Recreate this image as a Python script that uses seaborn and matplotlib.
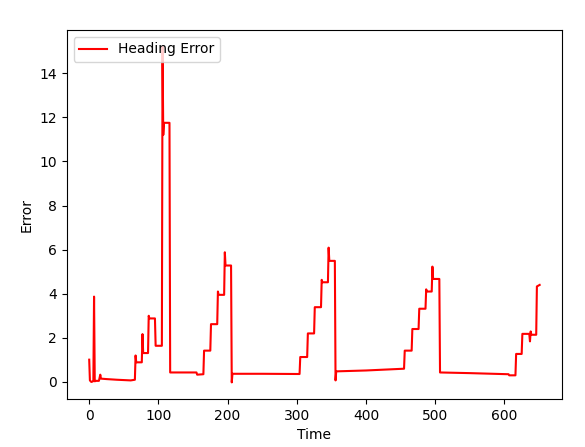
import matplotlib
matplotlib.use("Agg")
import matplotlib.pyplot as plt
import seaborn as sns
import pandas as pd

# Breakpoints
time = [0, 1, 3, 5, 6, 7, 8, 10, 14, 16, 17, 25, 40, 60, 66, 67, 68, 76, 77, 78,
        85, 86, 87, 95, 96, 105, 106, 107, 108, 116, 117, 155, 156, 165, 166, 175,
        176, 185, 186, 187, 195, 196, 197, 205, 206, 207, 250, 304, 305, 315, 316,
        325, 326, 335, 336, 337, 345, 346, 347, 355, 356, 357, 400, 455, 456, 466,
        467, 476, 477, 486, 487, 488, 495, 496, 497, 506, 507, 550, 606, 607, 616,
        617, 625, 626, 636, 637, 638, 639, 646, 647, 651]
error = [1.01, 0.07, 0.0, 0.02, 0.05, 3.87, 0.03, 0.05, 0.05, 0.33, 0.15, 0.13, 0.10,
         0.07, 0.10, 1.20, 0.89, 0.89, 2.17, 1.31, 1.31, 3.00, 2.88, 2.88, 1.64, 1.64,
         15.2, 11.2, 11.75, 11.75, 0.43, 0.43, 0.33, 0.35, 1.42, 1.42, 2.62, 2.62,
         4.10, 3.95, 3.95, 5.88, 5.28, 5.28, -0.02, 0.37, 0.37, 0.36, 1.13, 1.13, 2.20,
         2.20, 3.39, 3.39, 4.63, 4.52, 4.52, 6.09, 5.49, 5.49, 0.07, 0.48, 0.52, 0.60,
         1.42, 1.42, 2.40, 2.40, 3.32, 3.32, 4.20, 4.10, 4.10, 5.23, 4.67, 4.67, 0.43,
         0.40, 0.35, 0.30, 0.30, 1.27, 1.27, 2.18, 2.18, 1.84, 2.29, 2.14, 2.14, 4.33,
         4.40]

df = pd.DataFrame({"Time": time, "Error": error})

fig = plt.figure(figsize=(5.85, 4.47), dpi=100)
ax = fig.add_axes([0.114, 0.107, 0.847, 0.826])
sns.lineplot(data=df, x="Time", y="Error", color="red", label="Heading Error",
             estimator=None, sort=False, ax=ax, linewidth=1.5)
ax.legend(loc="upper left")
ax.set_xlabel("Time")
ax.set_ylabel("Error")
fig.savefig("out.png", dpi=100)
